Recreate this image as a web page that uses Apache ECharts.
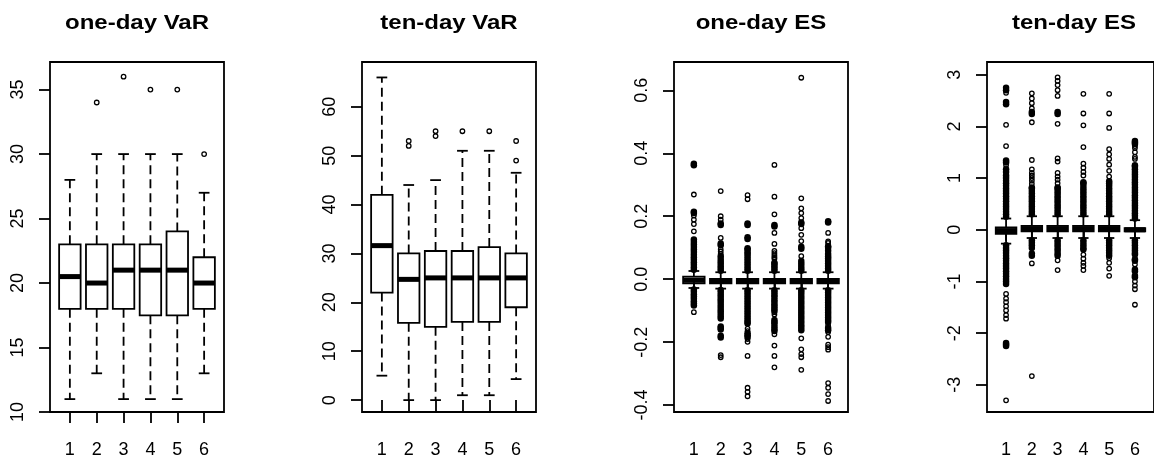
<!DOCTYPE html>
<html>
<head>
<meta charset="utf-8">
<title>VaR / ES boxplots</title>
<script src="https://cdn.jsdelivr.net/npm/echarts@6/dist/echarts.min.js"></script>
<style>
  html, body { margin: 0; padding: 0; background: #fff; }
  #chart { width: 1154px; height: 459px; }
</style>
</head>
<body>
<div id="chart"></div>
<script>
// groups on the x axis of every panel
const groups = [1, 2, 3, 4, 5, 6]
const panelTitles = ['one-day VaR', 'ten-day VaR', 'one-day ES', 'ten-day ES']

// y tick labels
const ticksVarOne = [10, 15, 20, 25, 30, 35]
const ticksVarTen = [0, 10, 20, 30, 40, 50, 60]
const ticksEsOne = [-0.4, -0.2, 0, 0.2, 0.4, 0.6]
const ticksEsTen = [-3, -2, -1, 0, 1, 2, 3]

// box stats per group: [lower whisker, Q1, median, Q3, upper whisker]
const varOneStats = [
  [11, 18, 20.5, 23, 28], [13, 18, 20, 23, 30], [11, 18, 21, 23, 30],
  [11, 17.5, 21, 23, 30], [11, 17.5, 21, 24, 30], [13, 18, 20, 22, 27],
]
const varOneOutliers = [[], [34], [36], [35], [35], [30]]

const varTenStats = [
  [5, 22, 31.6, 42, 66], [0, 15.8, 24.7, 30, 44], [0, 15, 25, 30.5, 45],
  [1, 16, 25, 30.5, 51], [1, 16, 25, 31.3, 51], [4.3, 19, 25, 30, 46.5],
]
const varTenOutliers = [[], [52, 53], [54, 55], [55], [55], [49, 53]]

const esOneStats = [
  [-0.028, -0.013, -0.003, 0.008, 0.026], [-0.03, -0.013, -0.006, 0.001, 0.022],
  [-0.03, -0.013, -0.006, 0.001, 0.022], [-0.03, -0.013, -0.006, 0.001, 0.022],
  [-0.03, -0.013, -0.006, 0.001, 0.022], [-0.03, -0.013, -0.006, 0.001, 0.022],
]
// overplotted outliers (they merge into solid black runs)
const esOneBands = [
  [0.03, 0.038, 0.046, 0.054, 0.062, 0.07, 0.078, 0.086, 0.094, 0.102, 0.11, 0.118, 0.126,
    0.21, 0.214, 0.362, 0.367,
    -0.033, -0.04, -0.048, -0.055, -0.062, -0.07, -0.077, -0.084],
  [0.027, 0.034, 0.041, 0.049, 0.056, 0.064, 0.073, 0.108, 0.113, 0.172, 0.177,
    -0.034, -0.041, -0.049, -0.056, -0.064, -0.071, -0.079, -0.087, -0.095, -0.102, -0.11,
    -0.118, -0.125, -0.15, -0.155, -0.16, -0.18, -0.185],
  [0.027, 0.034, 0.042, 0.05, 0.058, 0.066, 0.074, 0.081, 0.086, 0.094, 0.098, 0.128, 0.133,
    0.172, 0.177,
    -0.035, -0.042, -0.05, -0.058, -0.066, -0.074, -0.082, -0.09, -0.098, -0.106, -0.114,
    -0.122, -0.13, -0.136, -0.141, -0.172, -0.178, -0.184],
  [0.027, 0.034, 0.041, 0.048, 0.052, 0.167, 0.172,
    -0.035, -0.042, -0.05, -0.057, -0.065, -0.072, -0.08, -0.087, -0.094, -0.1,
    -0.13, -0.136, -0.142, -0.15, -0.158, -0.165],
  [0.027, 0.034, 0.042, 0.05, 0.058, 0.097, 0.103, 0.175, 0.18,
    -0.035, -0.042, -0.05, -0.058, -0.066, -0.074, -0.082, -0.09, -0.098, -0.106, -0.114,
    -0.122, -0.13, -0.138, -0.146, -0.154, -0.162],
  [0.027, 0.034, 0.042, 0.05, 0.058, 0.066, 0.072, 0.08, 0.09, 0.1, 0.105, 0.18, 0.184,
    -0.035, -0.042, -0.05, -0.058, -0.066, -0.074, -0.082, -0.09, -0.098, -0.106, -0.114,
    -0.122, -0.13, -0.136, -0.155, -0.162],
]
const esOneOutliers = [
  [0.152, 0.175, 0.189, 0.202, 0.269, -0.105],
  [0.08, 0.088, 0.095, 0.131, 0.189, 0.2, 0.28, -0.241, -0.248],
  [0.254, 0.267, -0.157, -0.165, -0.19, -0.199, -0.244, -0.345, -0.358, -0.372],
  [0.065, 0.07, 0.076, 0.083, 0.09, 0.112, 0.147, 0.206, 0.262, 0.363,
    -0.105, -0.112, -0.175, -0.211, -0.244, -0.28],
  [0.073, 0.121, 0.141, 0.162, 0.194, 0.21, 0.225, 0.257, 0.64,
    -0.188, -0.223, -0.238, -0.248, -0.288],
  [0.115, 0.12, 0.147, -0.146, -0.168, -0.183, -0.208, -0.216, -0.224,
    -0.33, -0.345, -0.365, -0.387],
]

const esTenStats = [
  [-0.268, -0.077, -0.015, 0.046, 0.218], [-0.159, -0.03, 0.023, 0.077, 0.262],
  [-0.159, -0.03, 0.023, 0.077, 0.262], [-0.159, -0.03, 0.023, 0.077, 0.262],
  [-0.159, -0.03, 0.023, 0.077, 0.262], [-0.159, -0.03, 0, 0.033, 0.186],
]
const esTenBands = [
  [0.25, 0.3, 0.35, 0.4, 0.45, 0.5, 0.55, 0.6, 0.65, 0.7, 0.75, 0.8, 0.85, 0.9, 0.95, 1.0, 1.05,
    1.12, 1.17, 1.3, 1.34, 2.43, 2.47, 2.7, 2.75,
    -0.3, -0.35, -0.4, -0.45, -0.5, -0.55, -0.6, -0.65, -0.7, -0.75, -0.8, -0.85, -0.9, -0.95,
    -1.0, -1.05, -2.19, -2.22, -2.25],
  [0.3, 0.35, 0.4, 0.45, 0.5, 0.55, 0.6, 0.65, 0.7, 0.75, 0.8, 0.82, 2.24, 2.28,
    -0.2, -0.25, -0.3, -0.35, -0.46, -0.5],
  [0.3, 0.35, 0.4, 0.45, 0.5, 0.55, 0.6, 0.65, 0.7, 0.75, 0.8, 0.82, 2.24, 2.28,
    -0.2, -0.25, -0.3, -0.35, -0.4, -0.46, -0.5],
  [0.3, 0.35, 0.4, 0.45, 0.5, 0.55, 0.6, 0.65, 0.7, 0.75, 0.8, 0.85, 0.9, 0.92,
    -0.2, -0.25, -0.3, -0.35, -0.38],
  [0.3, 0.35, 0.4, 0.45, 0.5, 0.55, 0.6, 0.65, 0.7, 0.75, 0.8, 0.85, 0.9, 0.94,
    -0.2, -0.25, -0.3, -0.35, -0.4, -0.45, -0.5],
  [0.22, 0.27, 0.32, 0.37, 0.42, 0.47, 0.52, 0.57, 0.62, 0.67, 0.72, 0.77, 0.82, 0.87, 0.92,
    0.97, 1.02, 1.07, 1.12, 1.17, 1.22, 1.25, 1.66, 1.69, 1.72,
    -0.2, -0.25, -0.3, -0.35, -0.4, -0.45, -0.48, -0.57, -0.6, -0.77, -0.8, -0.89, -0.92],
]
const esTenOutliers = [
  [1.25, 1.62, 2.03, 2.65, -1.24, -1.33, -1.4, -1.48, -1.56, -1.65, -1.72, -3.3],
  [0.89, 0.95, 1.0, 1.05, 1.1, 1.17, 1.35, 2.08, 2.35, 2.45, 2.54, 2.64, -0.65, -2.83],
  [0.9, 0.97, 1.03, 1.1, 1.32, 1.38, 2.05, 2.59, 2.7, 2.8, 2.88, 2.95, -0.59, -0.78],
  [1.05, 1.12, 1.2, 1.28, 1.6, 2.02, 2.25, 2.63, -0.48, -0.56, -0.64, -0.7, -0.78],
  [1.03, 1.14, 1.26, 1.37, 1.46, 1.56, 1.97, 2.25, 2.63, -0.55, -0.64, -0.75, -0.89],
  [1.37, 1.41, 1.5, 1.58, 1.62, -0.67, -1.0, -1.08, -1.15, -1.45],
]

const panels = [
  { stats: varOneStats, outliers: varOneOutliers, bands: [], ticks: ticksVarOne, min: 10, max: 37.14, left: 50 },
  { stats: varTenStats, outliers: varTenOutliers, bands: [], ticks: ticksVarTen, min: -2.43, max: 69.16, left: 362 },
  { stats: esOneStats, outliers: esOneOutliers, bands: esOneBands, ticks: ticksEsOne, min: -0.422, max: 0.69, left: 674, digits: 1 },
  { stats: esTenStats, outliers: esTenOutliers, bands: esTenBands, ticks: ticksEsTen, min: -3.525, max: 3.246, left: 987 },
]

const LW = 1.8
const FONT = 'Liberation Sans'

function renderBox(params, api) {
  const x = api.value(0)
  const lo = api.value(1)
  const q1 = api.value(2)
  const med = api.value(3)
  const q3 = api.value(4)
  const hi = api.value(5)
  const bL = api.coord([x - 0.4, med])[0]
  const bR = api.coord([x + 0.4, med])[0]
  const sL = api.coord([x - 0.2, med])[0]
  const sR = api.coord([x + 0.2, med])[0]
  const cx = api.coord([x, med])[0]
  const yLo = api.coord([x, lo])[1]
  const yQ1 = api.coord([x, q1])[1]
  const yMed = api.coord([x, med])[1]
  const yQ3 = api.coord([x, q3])[1]
  const yHi = api.coord([x, hi])[1]
  const dashed = { stroke: '#000', lineWidth: LW, lineDash: [9, 5] }
  const solid = { stroke: '#000', lineWidth: LW }
  return {
    type: 'group',
    children: [
      { type: 'line', shape: { x1: cx, y1: yQ3, x2: cx, y2: yHi }, style: dashed },
      { type: 'line', shape: { x1: cx, y1: yQ1, x2: cx, y2: yLo }, style: dashed },
      { type: 'line', shape: { x1: sL, y1: yHi, x2: sR, y2: yHi }, style: solid },
      { type: 'line', shape: { x1: sL, y1: yLo, x2: sR, y2: yLo }, style: solid },
      {
        type: 'rect',
        shape: { x: bL, y: yQ3, width: bR - bL, height: yQ1 - yQ3 },
        style: { fill: 'transparent', stroke: '#000', lineWidth: LW },
      },
      { type: 'line', shape: { x1: bL, y1: yMed, x2: bR, y2: yMed }, style: { stroke: '#000', lineWidth: 5 } },
    ],
  }
}

function toPoints(lists) {
  let pts = []
  lists.forEach((list, k) => {
    list.forEach((v) => pts.push([groups[k], v]))
  })
  return pts
}

const grid = []
const xAxis = []
const yAxis = []
const series = []
const graphic = []

panels.forEach((p, i) => {
  grid.push({
    left: p.left, top: 62, width: 174, height: 354,
    show: true, borderColor: '#000', borderWidth: LW, backgroundColor: 'transparent',
  })
  xAxis.push({
    type: 'value', gridIndex: i, min: 0.26, max: 6.74,
    axisLine: { show: false },
    splitLine: { show: false },
    axisTick: { show: true, length: 11, customValues: groups, lineStyle: { color: '#000', width: LW } },
    axisLabel: { customValues: groups, margin: 29, fontSize: 18, color: '#000', fontFamily: FONT },
  })
  yAxis.push({
    type: 'value', gridIndex: i, min: p.min, max: p.max,
    axisLine: { show: false },
    splitLine: { show: false },
    axisTick: { show: true, length: 11, customValues: p.ticks, lineStyle: { color: '#000', width: LW } },
    axisLabel: {
      customValues: p.ticks, rotate: 90, margin: 23, fontSize: 18, color: '#000', fontFamily: FONT,
      formatter: (v) => (p.digits ? Number(v).toFixed(p.digits) : String(Math.round(v))),
    },
  })
  series.push({
    type: 'custom', xAxisIndex: i, yAxisIndex: i,
    renderItem: renderBox,
    data: p.stats.map((s, k) => [groups[k]].concat(s)),
    z: 3,
  })
  series.push({
    type: 'scatter', xAxisIndex: i, yAxisIndex: i,
    symbol: 'circle', symbolSize: 6.5,
    itemStyle: { color: '#000', borderWidth: 0, opacity: 1 },
    data: toPoints(p.bands),
    z: 4,
  })
  series.push({
    type: 'scatter', xAxisIndex: i, yAxisIndex: i,
    symbol: 'circle', symbolSize: 4.5,
    itemStyle: { color: 'transparent', borderColor: '#000', borderWidth: 1.3, opacity: 1 },
    data: toPoints(p.outliers),
    z: 4,
  })
  graphic.push({
    type: 'text', x: p.left + 87, y: 23, scaleX: 1.2,
    style: {
      text: panelTitles[i], font: 'bold 20px "Liberation Sans"', fill: '#000',
      align: 'center', verticalAlign: 'middle',
    },
  })
})

let myChart = echarts.init(document.getElementById('chart'))
myChart.setOption({ animation: false, grid, xAxis, yAxis, series, graphic })
</script>
</body>
</html>
